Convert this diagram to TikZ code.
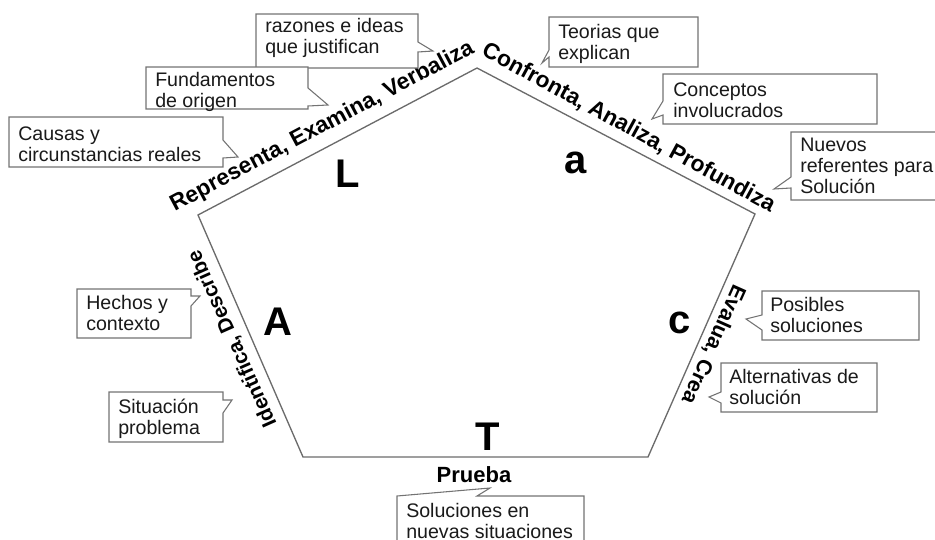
\documentclass[tikz,border=0pt]{standalone}
\usepackage{fontspec}
\setmainfont{Liberation Sans}
\definecolor{edgegray}{HTML}{6B6B6B}
\definecolor{boxgray}{HTML}{737373}
\definecolor{inkblack}{HTML}{1A1A1A}
% two- and three-line blocks whose baseline is that of the first line
\newcommand{\ctwo}[2]{\vtop{\hbox{#1}\hbox{#2}}}
\newcommand{\cthree}[3]{\vtop{\hbox{#1}\hbox{#2}\hbox{#3}}}
\begin{document}
\begin{tikzpicture}[x=0.75pt,y=-0.75pt,
  edge/.style={draw=edgegray, line width=1pt, line join=miter},
  bubble/.style={draw=boxgray, line width=0.8pt, fill=white, line join=miter},
  ctext/.style={anchor=base west, inner sep=0pt, text=inkblack,
    font=\fontsize{14.7}{15.9}\selectfont},
  verb/.style={anchor=base, inner sep=0pt, text=black},
  phase/.style={anchor=base, inner sep=0pt, text=black,
    font=\bfseries\fontsize{30}{36}\selectfont}]
\useasboundingbox (0,0) rectangle (935,539);
\begin{scope}
\clip (0,0) rectangle (935,539);

% pentagon
\coordinate (top) at (477,68);
\coordinate (ur) at (755,214);
\coordinate (lr) at (648,457);
\coordinate (ll) at (303,457);
\coordinate (ul) at (198,215);
\draw[edge] (ul) -- (top) -- (ur) -- (lr) -- (ll) -- cycle;

% phase letters
\node[phase] (pL) at (347.5,187) {L};
\node[phase] (pa) at (576,173) {a};
\node[phase] (pA) at (278,335) {A};
\node[phase] (pc) at (679.5,333) {c};
\node[phase] (pT) at (487.5,450) {T};

% actions along the sides
\node[verb, rotate=28, font=\bfseries\fontsize{17}{20}\selectfont] (rep) at (325,132)
  {Representa, Examina, Verbaliza};
\node[verb, rotate=-28.6, font=\bfseries\fontsize{17}{20}\selectfont] (conf) at (625.5,133.5)
  {Confronta, Analiza, Profundiza};
\node[verb, rotate=114, font=\bfseries\fontsize{15.6}{18}\selectfont] (ident) at (238,336.5)
  {Identifica, Describe};
\node[verb, rotate=-114, font=\bfseries\fontsize{16}{19}\selectfont] (eval) at (707.5,342)
  {Evalua, Crea};
\node[verb, font=\bfseries\fontsize{16.5}{19}\selectfont] (prueba) at (474,482) {Prueba};

% callouts
\draw[bubble] (256,14) -- (418,14) -- (418,42) -- (433,51) -- (418,52) -- (418,68) -- (256,68) -- cycle;
\node[ctext] (razones) at (265,32) {\ctwo{razones e ideas}{que justifican}};

\draw[bubble] (146,67) -- (308,67) -- (308,88) -- (328,105) -- (308,106) -- (308,109) -- (146,109) -- cycle;
\node[ctext] (fund) at (155,86) {\ctwo{Fundamentos}{de origen}};

\draw[bubble] (9,117) -- (223,117) -- (223,140) -- (238,157) -- (223,158) -- (223,167) -- (9,167) -- cycle;
\node[ctext] (causas) at (18,140) {\ctwo{Causas y}{circunstancias reales}};

\draw[bubble] (549,17) -- (698,17) -- (698,67) -- (549,67) -- (549,57) -- (542,63) -- (549,50) -- cycle;
\node[ctext] (teorias) at (558,38) {\ctwo{Teorias que}{explican}};

\draw[bubble] (663,74) -- (877,74) -- (877,124) -- (663,124) -- (663,115) -- (652,119) -- (663,101) -- cycle;
\node[ctext] (concep) at (673,96) {\ctwo{Conceptos}{involucrados}};

\draw[bubble] (791,132) -- (950,132) -- (950,200) -- (791,200) -- (791,188) -- (774,189) -- (791,177) -- cycle;
\node[ctext] (nuevos) at (800,151.5) {\cthree{Nuevos}{referentes para}{Solución}};

\draw[bubble] (77,289) -- (191,289) -- (191,296) -- (200,296) -- (191,306) -- (191,338) -- (77,338) -- cycle;
\node[ctext] (hechos) at (86,309) {\ctwo{Hechos y}{contexto}};

\draw[bubble] (109,392) -- (223,392) -- (223,400) -- (232,400) -- (223,413) -- (223,442) -- (109,442) -- cycle;
\node[ctext] (situ) at (118,413) {\ctwo{Situación}{problema}};

\draw[bubble] (762,291) -- (919,291) -- (919,340) -- (762,340) -- (762,330) -- (746,319) -- (762,315) -- cycle;
\node[ctext] (posib) at (770,311) {\ctwo{Posibles}{soluciones}};

\draw[bubble] (721,363) -- (877,363) -- (877,412) -- (721,412) -- (721,403) -- (709,397) -- (721,392) -- cycle;
\node[ctext] (altern) at (729,383) {\ctwo{Alternativas de}{solución}};

\draw[bubble] (397,496) -- (490,488) -- (477,496) -- (584,496) -- (584,560) -- (397,560) -- cycle;
\node[ctext] (solnuev) at (406,517) {\ctwo{Soluciones en}{nuevas situaciones}};
\end{scope}
\end{tikzpicture}
\end{document}
